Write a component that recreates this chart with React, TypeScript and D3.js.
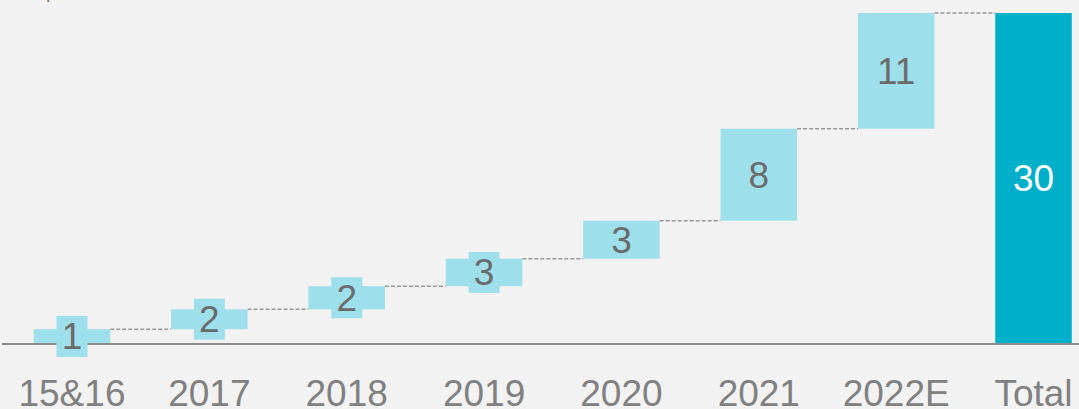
import React from "react";
import * as d3 from "d3";

const categories = ["15&16", "2017", "2018", "2019", "2020", "2021", "2022E", "Total"];
const increments = [1.3, 1.8, 2.1, 2.5, 3.45, 8.35, 10.5];
const totalLabel = "Total";

const W = 1079;
const H = 409;
const BG = "#f2f2f2";
const INC_COLOR = "#9ddfeb";
const TOTAL_COLOR = "#00b0ca";
const FONT = "'Liberation Sans', Arial, sans-serif";

export default function App() {
  const total = d3.sum(increments);
  const x = d3
    .scaleBand<string>()
    .domain(categories)
    .range([3.3, 1102.2])
    .paddingInner(0.443)
    .paddingOuter(0.2215);
  const y = d3.scaleLinear().domain([0, 30]).range([343.5, 13]);

  let cum = 0;
  const bars = increments.map((v, i) => {
    const start = cum;
    cum += v;
    return { cat: categories[i], v, start, end: cum, total: false };
  });
  bars.push({ cat: totalLabel, v: total, start: 0, end: total, total: true });

  const bw = x.bandwidth();
  const fs = 37;

  return (
    <svg
      width={W}
      height={H}
      style={{ position: "fixed", left: 0, top: 0, display: "block" }}
      fontFamily={FONT}
    >
      <rect x={0} y={0} width={W} height={H} fill={BG} />
      <text x={46} y={-1.8} fontSize={20} fill="#7f7f7f">p</text>
      {bars.slice(0, -1).map((b, i) => {
        const next = bars[i + 1];
        const yy = y(b.end);
        return (
          <line
            key={"c" + i}
            x1={(x(b.cat) as number) + bw}
            x2={x(next.cat) as number}
            y1={yy}
            y2={yy}
            stroke="#9a9a9a"
            strokeWidth={1.5}
            strokeDasharray="4,2"
          />
        );
      })}
      {bars.map((b, i) => {
        const x0 = x(b.cat) as number;
        const y0 = y(b.end);
        const y1 = y(b.start);
        const h = y1 - y0;
        return (
          <rect
            key={"b" + i}
            x={x0}
            y={y0}
            width={bw}
            height={h}
            fill={b.total ? TOTAL_COLOR : INC_COLOR}
          />
        );
      })}
      <line x1={2} x2={W} y1={344} y2={344} stroke="#8c8c8c" strokeWidth={2} />
      {bars.map((b, i) => {
        const x0 = x(b.cat) as number;
        const y0 = y(b.end);
        const y1 = y(b.start);
        const h = y1 - y0;
        const cx = x0 + bw / 2;
        const cy = (y0 + y1) / 2;
        const small = h < 30;
        return (
          <g key={"l" + i}>
            {small && (
              <rect x={cx - 15.5} y={cy - 20.5} width={31} height={41} fill={INC_COLOR} />
            )}
            <text
              x={cx}
              y={cy}
              dy="0.35em"
              textAnchor="middle"
              fontSize={fs}
              fill={b.total ? "#ffffff" : "#6b6b6b"}
            >
              {d3.format(".0f")(Math.round(b.v))}
            </text>
          </g>
        );
      })}
      {categories.map((c) => (
        <text
          key={"t" + c}
          x={(x(c) as number) + bw / 2}
          y={406}
          textAnchor="middle"
          fontSize={fs}
          fill="#808080"
        >
          {c}
        </text>
      ))}
    </svg>
  );
}
